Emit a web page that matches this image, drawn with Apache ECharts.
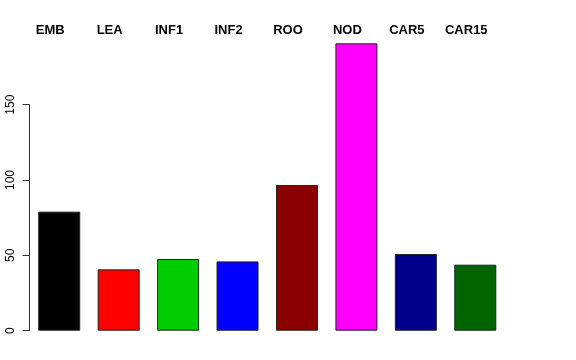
<!DOCTYPE html>
<html><head><meta charset="utf-8">
<script src="https://cdn.jsdelivr.net/npm/echarts@6/dist/echarts.min.js"></script>
<style>html,body{margin:0;padding:0;background:#fff}#c{width:576px;height:360px}</style>
</head><body><div id="c"></div>
<script>
var categories = ["EMB","LEA","INF1","INF2","ROO","NOD","CAR5","CAR15"];
var values = [79, 40.7, 47.6, 46, 96.7, 190.7, 50.9, 43.8];
var colors = ["#000000","#FF0000","#00CD00","#0000FF","#8B0000","#FF00FF","#00008B","#006400"];
var yTicks = [0, 50, 100, 150];

var chart = echarts.init(document.getElementById('c'), null, {renderer:'canvas'});
var gl = 29.5, gr = 71, gb = 29.3, unit = 1.507;
chart.setOption({
  animation:false,
  backgroundColor:'#fff',
  grid:[
    {left:gl, right:gr, bottom:gb, height:200*unit},
    {left:gl, right:gr, bottom:gb, height:150*unit}
  ],
  xAxis:[
    {type:'category', gridIndex:0, data:categories, position:'top', offset:0,
     axisLine:{show:false}, axisTick:{show:false},
     axisLabel:{margin:-1, fontFamily:'Liberation Sans, Arial, sans-serif', fontWeight:'bold', fontSize:13, color:'#000', verticalAlign:'middle', padding:[0,18,0,0], interval:0}},
    {type:'category', gridIndex:1, data:categories, show:false}
  ],
  yAxis:[
    {type:'value', gridIndex:0, min:0, max:200, show:false, splitLine:{show:false}},
    {type:'value', gridIndex:1, min:yTicks[0], max:yTicks[yTicks.length-1], interval:50,
     axisLine:{show:true, lineStyle:{color:'#333', width:1}},
     axisTick:{show:true, length:7, lineStyle:{color:'#333'}},
     splitLine:{show:false},
     axisLabel:{rotate:90, margin:19, fontSize:12, color:'#000', fontFamily:'Liberation Sans, Arial, sans-serif', verticalAlign:'middle', align:'center'}}
  ],
  series:[{
    type:'bar', xAxisIndex:0, yAxisIndex:0,
    barWidth:42,
    data: values.map(function(v,i){return {value:v, itemStyle:{color:colors[i]}};}),
    itemStyle:{borderColor:'#222', borderWidth:1}
  }]
});
</script></body></html>
